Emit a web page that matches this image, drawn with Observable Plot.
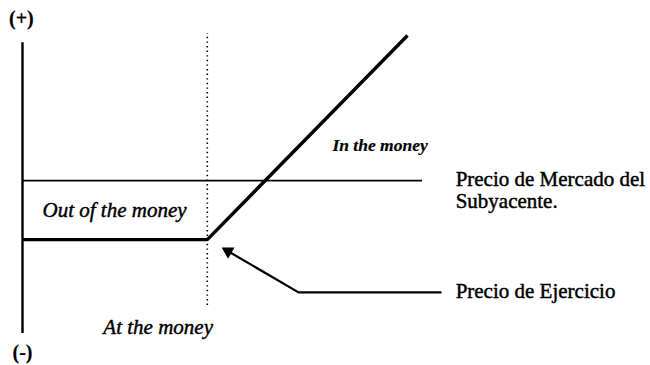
<!DOCTYPE html>
<html>
<head>
<meta charset="utf-8">
<script src="https://cdn.jsdelivr.net/npm/d3@7"></script>
<script src="https://cdn.jsdelivr.net/npm/@observablehq/plot@0.6"></script>
<style>
  html, body { margin: 0; padding: 0; background: #fff; }
  #chart svg { display: block; }
</style>
</head>
<body>
<div id="chart"></div>
<script>
// Conceptual units: x = underlying price (0..100), y = value (0..100)
const axisX = 0;
const axisY = [0, 97.6];                 // vertical axis extent
const strikeX = 48;                      // "At the money" strike
const strikeDotY = [9.4, 100.7];         // dotted strike line extent
const payoffX = [0, 48, 100];            // option payoff (thick line)
const payoffY = [31.5, 31.5, 100];
const marketX = [0, 103.9];              // market price of underlying
const marketY = 51.3;
const arrowX = [108.6, 71.7, 53.4];      // pointer to strike (end, bend, head)
const arrowY = [13.8, 13.8, 27.6];

const italicLabels = ["Out of the money", "At the money"];
const italicX = [5.2, 21];
const italicY = [41.3, 2.0];

const inMoneyLabel = ["In the money"];
const inMoneyX = [80.5];
const inMoneyY = [63.1];

const sideLabels = ["Precio de Mercado del", "Subyacente.", "Precio de Ejercicio"];
const sideX = [112.5, 112.5, 112.5];
const sideY = [51.7, 44.3, 14.1];

const signLabels = ["(+)", "(-)"];
const signX = [-0.3, 0];
const signY = [105.7, -6.4];

const payoff = payoffX.map((x, i) => ({x, y: payoffY[i]}));
const arrowPts = arrowX.map((x, i) => ({x, y: arrowY[i]}));
const tbl = (t, xs, ys) => t.map((text, i) => ({text, x: xs[i], y: ys[i]}));

const serif = "'Liberation Serif', 'Times New Roman', serif";
const ink = {fill: "#000", stroke: "#000", strokeWidth: 0.45};

const plot = Plot.plot({
  width: 650,
  height: 365,
  marginLeft: 22,
  marginRight: 243,
  marginTop: 35,
  marginBottom: 32,
  x: {domain: [0, 100], axis: null},
  y: {domain: [0, 100], axis: null},
  style: {background: "#fff", color: "#000", fontFamily: serif, overflow: "visible"},
  marks: [
    Plot.ruleX([strikeX], {y1: strikeDotY[0], y2: strikeDotY[1], stroke: "#000", strokeWidth: 1.6, strokeDasharray: "1.4,3.2"}),
    Plot.ruleX([axisX], {y1: axisY[0], y2: axisY[1], stroke: "#000", strokeWidth: 2.4}),
    Plot.ruleY([marketY], {x1: marketX[0], x2: marketX[1], stroke: "#000", strokeWidth: 1.6}),
    Plot.line(payoff, {x: "x", y: "y", stroke: "#000", strokeWidth: 3.4, strokeLinejoin: "miter", strokeLinecap: "butt"}),
    Plot.line(arrowPts, {x: "x", y: "y", stroke: "#000", strokeWidth: 2.2}),
    Plot.dot([arrowPts[2]], {x: "x", y: "y", symbol: "triangle", r: 4.8, fill: "#000", stroke: "none", rotate: -60}),
    Plot.text(tbl(italicLabels, italicX, italicY), {x: "x", y: "y", text: "text", textAnchor: "start", fontSize: 21, fontStyle: "italic", ...ink}),
    Plot.text(tbl(inMoneyLabel, inMoneyX, inMoneyY), {x: "x", y: "y", text: "text", textAnchor: "start", fontSize: 17.5, fontStyle: "italic", fontWeight: "bold", ...ink, strokeWidth: 0.2}),
    Plot.text(tbl(sideLabels, sideX, sideY), {x: "x", y: "y", text: "text", textAnchor: "start", fontSize: 21, ...ink}),
    Plot.text(tbl(signLabels, signX, signY), {x: "x", y: "y", text: "text", textAnchor: "middle", fontSize: 20, fontWeight: "bold", ...ink, strokeWidth: 0.2})
  ]
});
document.getElementById("chart").append(plot);
</script>
</body>
</html>
